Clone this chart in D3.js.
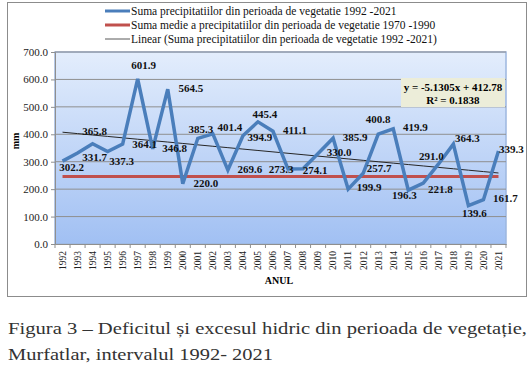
<!DOCTYPE html>
<html>
<head>
<meta charset="utf-8">
<script src="https://cdn.jsdelivr.net/npm/d3@7"></script>
<style>
  body { margin: 0; background: #fff; }
  svg { display: block; font-family: "Liberation Serif", "Times New Roman", serif; }
</style>
</head>
<body>
<svg id="chart" width="532" height="373"></svg>
<script>
const years = d3.range(1992, 2022).map(String);
const precip = [302.2, 331.7, 365.8, 337.3, 364.1, 601.9, 346.8, 564.5, 220.0, 385.3,
                401.4, 269.6, 394.9, 445.4, 411.1, 273.3, 274.1, 330.0, 385.9, 199.9,
                257.7, 400.8, 419.9, 196.3, 221.8, 291.0, 364.3, 139.6, 161.7, 339.3];
const meanValue = 246.5;               // suma medie 1970-1990
const trendSlope = -5.1305;
const trendIntercept = 412.78;
const yTicks = [0, 100, 200, 300, 400, 500, 600, 700];
const seriesNames = [
  'Suma  precipitatiilor din perioada de vegetatie 1992 -2021',
  'Suma medie a precipitatiilor din perioada de vegetatie 1970 -1990',
  'Linear (Suma  precipitatiilor din perioada de vegetatie 1992 -2021)'
];
// where each data label sits relative to its point [dx, dy]
const labelOffsets = [
  [9, 10], [17, 8], [2, -9], [14, 14], [22, 4], [6, -10], [22, 3], [23, 3], [23, 3], [3, -5],
  [17, -3], [22, 3], [17, 5], [7, -4], [22, 3], [-7, 4], [12, 5], [21, 3], [22, 3], [21, 2],
  [16, -1], [0, -11], [22, 2], [-4, 9], [17, 10], [-7, -4], [14, -2], [6, 11], [22, 2], [13, 2]
];

const svg = d3.select('#chart');
const plot = { left: 55, right: 506, top: 52, bottom: 244 };

// outer frame
svg.append('rect')
  .attr('x', 7.5).attr('y', 2.5).attr('width', 519).attr('height', 294)
  .attr('fill', '#fff').attr('stroke', '#8c8c8c');

const x = d3.scaleBand()
  .domain(years)
  .range([plot.left, plot.right]);

const y = d3.scaleLinear()
  .domain([0, 700])
  .range([plot.bottom, plot.top]);

const cx = d => x(d) + x.bandwidth() / 2;

// plot background gradient
const defs = svg.append('defs');
const grad = defs.append('linearGradient')
  .attr('id', 'bg').attr('x1', 0).attr('y1', 0).attr('x2', 0).attr('y2', 1);
grad.append('stop').attr('offset', '0%').attr('stop-color', '#e3edfc');
grad.append('stop').attr('offset', '100%').attr('stop-color', '#a1c0f3');

svg.append('rect')
  .attr('x', plot.left).attr('y', plot.top)
  .attr('width', plot.right - plot.left).attr('height', plot.bottom - plot.top)
  .attr('fill', 'url(#bg)')
  .attr('stroke', '#9db7df').attr('stroke-width', 1.5);

// gridlines
svg.append('g')
  .selectAll('line')
  .data(yTicks.filter(t => t > 0))
  .join('line')
  .attr('x1', plot.left).attr('x2', plot.right)
  .attr('y1', d => y(d)).attr('y2', d => y(d))
  .attr('stroke', '#8f8f8f').attr('stroke-width', 1);

// Y axis
const yAxis = svg.append('g')
  .attr('transform', `translate(${plot.left},0)`)
  .call(d3.axisLeft(y).tickValues(yTicks).tickFormat(d3.format('.1f')).tickSize(4).tickPadding(3));
yAxis.select('.domain').attr('stroke', '#8f8f8f');
yAxis.selectAll('.tick line').attr('stroke', '#8f8f8f');
yAxis.selectAll('text')
  .attr('font-family', '"Liberation Serif", serif')
  .attr('font-size', '11px').attr('fill', '#222');

// X axis
const xAxis = svg.append('g')
  .attr('transform', `translate(0,${plot.bottom})`)
  .call(d3.axisBottom(x).tickSize(0).tickPadding(0));
xAxis.select('.domain').attr('stroke', '#8f8f8f');
xAxis.selectAll('text')
  .attr('font-family', '"Liberation Serif", serif')
  .attr('font-size', '9.5px').attr('fill', '#222')
  .attr('text-anchor', 'end')
  .attr('transform', 'rotate(-90)')
  .attr('x', -7).attr('y', 0).attr('dy', '0.35em');
// tick marks between categories
svg.append('g')
  .selectAll('line')
  .data(years.concat(['end']))
  .join('line')
  .attr('x1', (d, i) => plot.left + i * x.step())
  .attr('x2', (d, i) => plot.left + i * x.step())
  .attr('y1', plot.bottom).attr('y2', plot.bottom + 4)
  .attr('stroke', '#8f8f8f');

// axis titles
svg.append('text')
  .attr('transform', 'rotate(-90)')
  .attr('x', -141).attr('y', 19)
  .attr('text-anchor', 'middle')
  .attr('font-size', '10px').attr('font-weight', 'bold')
  .text('mm');

svg.append('text')
  .attr('x', 279).attr('y', 284)
  .attr('text-anchor', 'middle')
  .attr('font-size', '10px').attr('font-weight', 'bold')
  .text('ANUL');

// mean line (red)
svg.append('line')
  .attr('x1', cx(years[0])).attr('x2', cx(years[years.length - 1]))
  .attr('y1', y(meanValue)).attr('y2', y(meanValue))
  .attr('stroke', '#c0504d').attr('stroke-width', 3);

// linear trend (x = 1..n)
const trend = years.map((yr, i) => ({ year: yr, value: trendSlope * (i + 1) + trendIntercept }));
svg.append('path')
  .datum(trend)
  .attr('fill', 'none')
  .attr('stroke', '#262626').attr('stroke-width', 1)
  .attr('d', d3.line().x(d => cx(d.year)).y(d => y(d.value)));

// precipitation series (blue)
const series = years.map((yr, i) => ({ year: yr, value: precip[i] }));
svg.append('path')
  .datum(series)
  .attr('fill', 'none')
  .attr('stroke', '#4a7ebb').attr('stroke-width', 3.5)
  .attr('stroke-linejoin', 'miter')
  .attr('d', d3.line().x(d => cx(d.year)).y(d => y(d.value)));

// data labels
svg.append('g')
  .selectAll('text')
  .data(series)
  .join('text')
  .attr('x', (d, i) => cx(d.year) + labelOffsets[i][0])
  .attr('y', (d, i) => y(d.value) + labelOffsets[i][1])
  .attr('text-anchor', 'middle')
  .attr('font-size', '11px').attr('font-weight', 'bold')
  .attr('fill', '#111')
  .text(d => d.value.toFixed(1));

// trendline equation box
const eq = svg.append('g');
eq.append('rect')
  .attr('x', 401).attr('y', 78).attr('width', 104).attr('height', 29)
  .attr('fill', '#ecedd9');
eq.append('text')
  .attr('x', 453).attr('y', 91)
  .attr('text-anchor', 'middle')
  .attr('font-size', '11px').attr('font-weight', 'bold')
  .text(`y = ${trendSlope}x + ${trendIntercept}`);
eq.append('text')
  .attr('x', 453).attr('y', 104)
  .attr('text-anchor', 'middle')
  .attr('font-size', '11px').attr('font-weight', 'bold')
  .text('R² = 0.1838');

// legend
const legendColors = ['#4a7ebb', '#c0504d', '#595959'];
const legendWidths = [3, 3, 1];
const legend = svg.append('g');
seriesNames.forEach((name, i) => {
  const ly = 11 + i * 14;
  legend.append('line')
    .attr('x1', 105).attr('x2', 130).attr('y1', ly).attr('y2', ly)
    .attr('stroke', legendColors[i]).attr('stroke-width', legendWidths[i]);
  legend.append('text')
    .attr('x', 131).attr('y', ly + 4)
    .attr('font-size', '11.5px').attr('fill', '#111')
    .text(name);
});

// caption below the chart
const caption = svg.append('g')
  .attr('font-family', '"Liberation Serif", serif')
  .attr('font-size', '17px').attr('fill', '#333');
caption.append('text')
  .attr('x', 8).attr('y', 334)
  .attr('textLength', 519).attr('lengthAdjust', 'spacingAndGlyphs')
  .text('Figura 3 – Deficitul și excesul hidric din perioada de vegetație,');
caption.append('text')
  .attr('x', 8).attr('y', 360)
  .attr('textLength', 265).attr('lengthAdjust', 'spacingAndGlyphs')
  .text('Murfatlar, intervalul 1992- 2021');
</script>
</body>
</html>
